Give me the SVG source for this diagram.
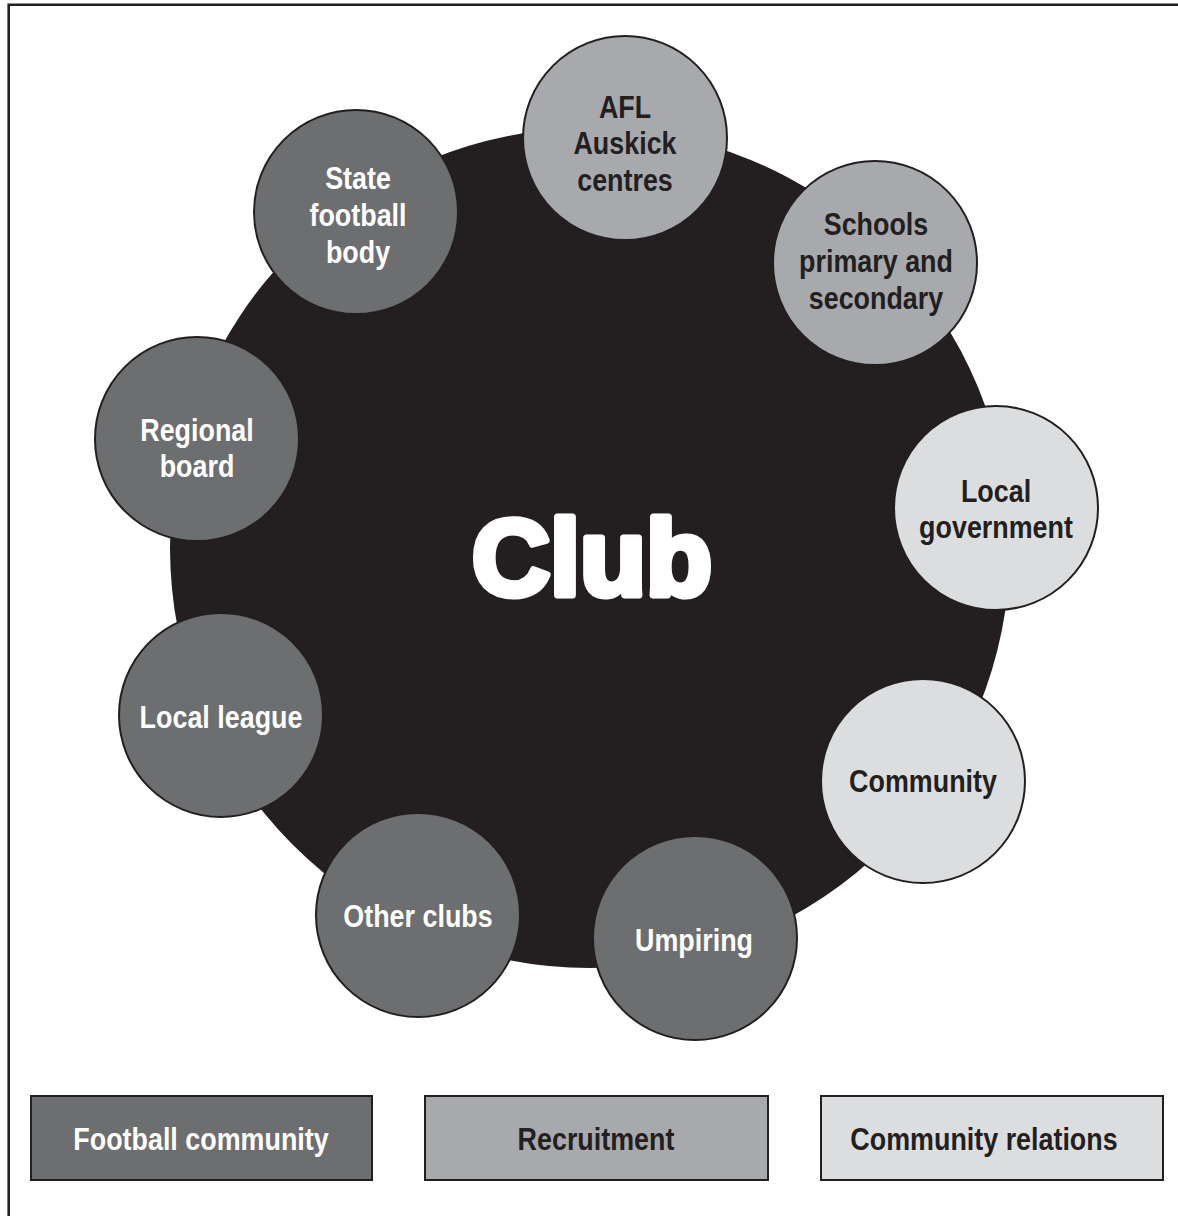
<svg xmlns="http://www.w3.org/2000/svg" width="1178" height="1216" viewBox="0 0 1178 1216">
<style>
.dk{fill:#6d6e70;stroke:#231f20;stroke-width:2}
.md{fill:#a7a9ac;stroke:#231f20;stroke-width:2}
.lt{fill:#dcdddf;stroke:#231f20;stroke-width:2}
text{font-family:"Liberation Sans",Arial,sans-serif;font-weight:bold;font-size:32px;text-anchor:middle}
.w{fill:#ffffff}
.b{fill:#231f20}
</style>
<rect width="1178" height="1216" fill="#ffffff"/>
<path d="M8.7,1216 V4.7 H1178" fill="none" stroke="#231f20" stroke-width="2.6"/>
<g id="club">
<circle cx="590" cy="548" r="420" fill="#231f20"/>
<text x="592" y="595" style="font-size:108px" fill="#ffffff" stroke="#ffffff" stroke-width="7" stroke-linejoin="round">Club</text>
</g>
<g id="connectors"></g>
<g id="afl">
<circle class="md" cx="625" cy="138" r="102"/>
<g transform="translate(625,0) scale(0.84,1)"><text x="0" y="118" class="b">AFL</text><text x="0" y="154" class="b">Auskick</text><text x="0" y="191" class="b">centres</text></g>
</g>
<g id="schools">
<circle class="md" cx="875" cy="263" r="102"/>
<g transform="translate(876,0) scale(0.84,1)"><text x="0" y="235" class="b">Schools</text><text x="0" y="272" class="b">primary and</text><text x="0" y="309" class="b">secondary</text></g>
</g>
<g id="localgov">
<circle class="lt" cx="996" cy="508" r="102"/>
<g transform="translate(996,0) scale(0.84,1)"><text x="0" y="502" class="b">Local</text><text x="0" y="538" class="b">government</text></g>
</g>
<g id="community">
<circle class="lt" cx="923" cy="781" r="102"/>
<g transform="translate(923,0) scale(0.84,1)"><text x="0" y="792" class="b">Community</text></g>
</g>
<g id="umpiring">
<circle class="dk" cx="695" cy="938" r="102"/>
<g transform="translate(694,0) scale(0.84,1)"><text x="0" y="951" class="w">Umpiring</text></g>
</g>
<g id="otherclubs">
<circle class="dk" cx="418" cy="915" r="102"/>
<g transform="translate(418,0) scale(0.84,1)"><text x="0" y="927" class="w">Other clubs</text></g>
</g>
<g id="localleague">
<circle class="dk" cx="221" cy="715" r="102"/>
<g transform="translate(221,0) scale(0.84,1)"><text x="0" y="728" class="w">Local league</text></g>
</g>
<g id="regional">
<circle class="dk" cx="197" cy="439" r="102"/>
<g transform="translate(197,0) scale(0.84,1)"><text x="0" y="441" class="w">Regional</text><text x="0" y="477" class="w">board</text></g>
</g>
<g id="state">
<circle class="dk" cx="356" cy="212" r="102"/>
<g transform="translate(358,0) scale(0.84,1)"><text x="0" y="189" class="w">State</text><text x="0" y="226" class="w">football</text><text x="0" y="263" class="w">body</text></g>
</g>
<g id="legend-football">
<rect class="dk" x="31" y="1096" width="341" height="84"/>
<g transform="translate(201,0) scale(0.84,1)"><text x="0" y="1150" class="w">Football community</text></g>
</g>
<g id="legend-recruitment">
<rect class="md" x="425" y="1096" width="343" height="84"/>
<g transform="translate(596,0) scale(0.84,1)"><text x="0" y="1150" class="b">Recruitment</text></g>
</g>
<g id="legend-relations">
<rect class="lt" x="821" y="1096" width="342" height="84"/>
<g transform="translate(984,0) scale(0.84,1)"><text x="0" y="1150" class="b">Community relations</text></g>
</g>
</svg>
